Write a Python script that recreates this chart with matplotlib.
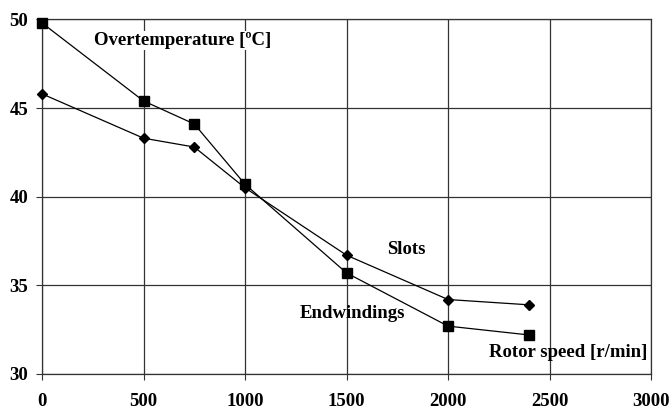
import matplotlib
matplotlib.use('Agg')
import matplotlib.pyplot as plt

plt.rcParams['font.family'] = ['Liberation Serif', 'DejaVu Serif']
plt.rcParams['font.weight'] = 'bold'

# rotor speed [r/min]
speed = [0, 500, 750, 1000, 1500, 2000, 2400]
# overtemperature [C]
endwindings = [49.8, 45.4, 44.1, 40.7, 35.7, 32.7, 32.2]
slots = [45.8, 43.3, 42.8, 40.5, 36.7, 34.2, 33.9]

fig = plt.figure(figsize=(6.7, 4.09), dpi=100)
ax = fig.add_axes([0.0627, 0.0856, 0.909, 0.867])

ax.plot(speed, endwindings, color='black', lw=0.9, marker='s', ms=7.5, zorder=3, clip_on=False)
ax.plot(speed, slots, color='black', lw=0.9, marker='D', ms=5.5, zorder=3, clip_on=False)

ax.set_xlim(0, 3000)
ax.set_ylim(30, 50)
ax.set_xticks(range(0, 3001, 500))
ax.set_yticks(range(30, 51, 5))
ax.grid(True, color='#333333', lw=0.9)
for s in ax.spines.values():
    s.set_color('#333333')
    s.set_linewidth(0.9)
ax.tick_params(labelsize=13.5, length=4, color='#333333', pad=6)
ax.tick_params(axis='x', pad=10)
for lbl in ax.get_xticklabels() + ax.get_yticklabels():
    lbl.set_fontweight('bold')

fs = 13.5
ax.text(255, 48.8, 'Overtemperature [ºC]', fontsize=fs, fontweight='bold',
        va='center', ha='left', bbox=dict(facecolor='white', edgecolor='none', pad=1))
ax.text(1700, 37.0, 'Slots', fontsize=fs, fontweight='bold', va='center', ha='left')
ax.text(1270, 33.4, 'Endwindings', fontsize=fs, fontweight='bold', va='center', ha='left')
ax.text(2200, 31.2, 'Rotor speed [r/min]', fontsize=fs, fontweight='bold', va='center', ha='left')

fig.savefig('out.png', dpi=100)
